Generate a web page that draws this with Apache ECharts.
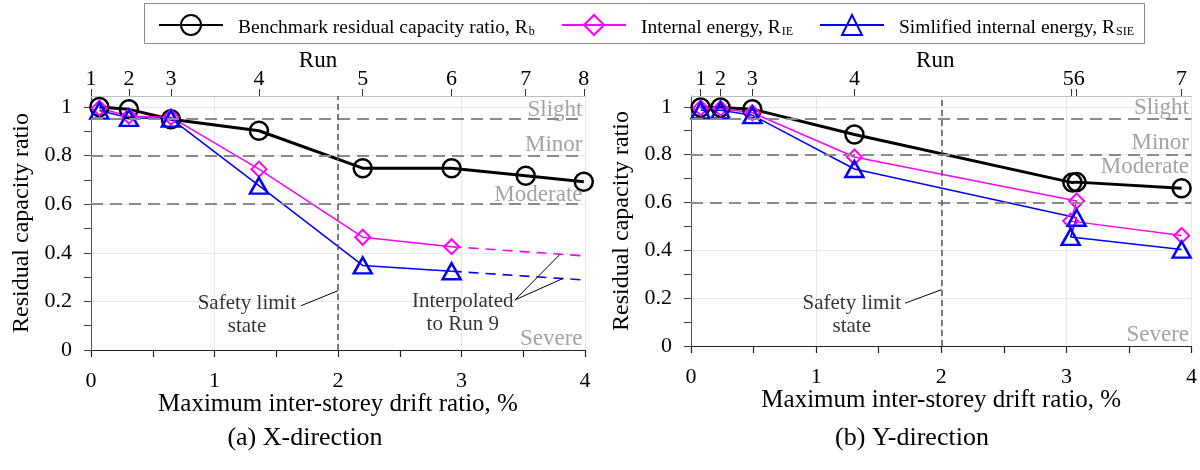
<!DOCTYPE html>
<html><head><meta charset="utf-8">
<script src="https://cdn.jsdelivr.net/npm/echarts@6/dist/echarts.min.js"></script>
<style>html,body{margin:0;padding:0;background:#fff}#c{width:1200px;height:470px}</style>
</head><body><div id="c"></div><script>
// ---------- DATA ----------
// (a) X-direction
const driftX   = [0.068, 0.307, 0.647, 1.36, 2.20, 2.92, 3.52, 3.99];
const rbX      = [1.0, 0.99, 0.949, 0.902, 0.748, 0.748, 0.717, 0.692];
const ieX      = [0.995, 0.962, 0.958, 0.744, 0.464, 0.425];
const sieX     = [0.985, 0.955, 0.952, 0.676, 0.348, 0.324];
const interpDriftX = [2.92, 4.0];
const ieInterpX    = [0.425, 0.387];
const sieInterpX   = [0.324, 0.288];
const runTicksX  = [0, 0.307, 0.647, 1.36, 2.20, 2.92, 3.52, 3.99];
const runLabelsX = ['1','2','3','4','5','6','7','8'];
// (b) Y-direction
const driftRbY = [0.077, 0.236, 0.49, 1.306, 3.048, 3.082, 3.921];
const rbY      = [0.997, 0.997, 0.99, 0.884, 0.683, 0.685, 0.659];
const driftEnY = [0.077, 0.236, 0.49, 1.306, 3.082, 3.034, 3.921];
const ieY      = [0.995, 0.993, 0.975, 0.79, 0.606, 0.522, 0.462];
const sieY     = [0.985, 0.985, 0.965, 0.74, 0.536, 0.456, 0.403];
const runTicksY  = [0.077, 0.236, 0.49, 1.306, 3.035, 3.075, 3.921];
const runLabelsY = ['1','2','3','4','5','6','7'];
// axes / references
const yLabelVals = [0, 0.2, 0.4, 0.6, 0.8, 1];
const yTickVals = [0, 0.1, 0.2, 0.3, 0.4, 0.5, 0.6, 0.7, 0.8, 0.9, 1];
const yGridVals = [0.2, 0.4, 0.6, 0.8, 1];
const damageThresholds = [0.95, 0.8, 0.6];
const safetyLimitDrift = 2;
const damageNames = ['Slight', 'Minor', 'Moderate', 'Severe'];
const damageLabelYX = [0.988, 0.844, 0.638, 0.044];
const damageLabelYY = [0.997, 0.848, 0.75, 0.046];
// annotations
const safetyTextX = [1.263, 0.146];
const safetyLeaderX = [[1.70, 0.182], [2.0, 0.244]];
const interpTextX = [3.01, 0.153];
const interpLeadersX = [[[3.433, 0.206], [3.80, 0.395]], [[3.433, 0.206], [3.825, 0.295]]];
const safetyTextY = [1.285, 0.130];
const safetyLeaderY = [[1.711, 0.179], [2.0, 0.235]];

// ---------- CHART ----------
const FONT = '"Liberation Serif","Times New Roman",serif';
const zip = (xs, ys) => xs.map((x, i) => [x, ys[i]]);
const chart = echarts.init(document.getElementById('c'), null, {renderer: 'canvas'});

const styles = {
  Rb:   {lineStyle: {color: '#000', width: 3}, symbol: 'circle', symbolSize: 18,
         itemStyle: {color: 'rgba(0,0,0,0)', borderColor: '#000', borderWidth: 2.5}},
  RIE:  {lineStyle: {color: '#ff00ff', width: 1.5}, symbol: 'diamond', symbolSize: 15,
         itemStyle: {color: 'rgba(0,0,0,0)', borderColor: '#ff00ff', borderWidth: 2}},
  RSIE: {lineStyle: {color: '#0000ff', width: 1.5}, symbol: 'triangle', symbolSize: [18, 16],
         itemStyle: {color: 'rgba(0,0,0,0)', borderColor: '#0000ff', borderWidth: 2.5}}
};
function lineSeries(name, g, data) {
  return Object.assign({type: 'line', name, xAxisIndex: g * 2, yAxisIndex: g * 2, data,
    clip: false, z: 3, emphasis: {disabled: true}, animation: false}, styles[name]);
}
function dashSeries(color, g, data) {
  return {type: 'line', xAxisIndex: g * 2, yAxisIndex: g * 2, data, symbol: 'none', z: 3,
    lineStyle: {color, width: 1.6, type: [10, 7]}, emphasis: {disabled: true}, animation: false, silent: true};
}
function leader(g, pts) {
  return {type: 'line', xAxisIndex: g * 2, yAxisIndex: g * 2, data: pts, symbol: 'none', z: 4,
    lineStyle: {color: '#000', width: 1}, emphasis: {disabled: true}, animation: false, silent: true};
}
function textSeries(g, pt, text) {
  return {type: 'scatter', xAxisIndex: g * 2, yAxisIndex: g * 2, data: [pt], symbolSize: 1, clip: false,
    itemStyle: {color: 'rgba(0,0,0,0)'}, silent: true, animation: false, z: 5,
    label: {show: true, position: 'inside', formatter: text, fontFamily: FONT, fontSize: 21,
      lineHeight: 23, color: '#000', align: 'center'}};
}
function damageSeries(g, ys) {
  return {type: 'scatter', xAxisIndex: g * 2, yAxisIndex: g * 2, clip: false, symbolSize: 1,
    data: ys.map((y, i) => ({value: [4, y], name: damageNames[i]})),
    itemStyle: {color: 'rgba(0,0,0,0)'}, silent: true, animation: false, z: 5,
    label: {show: true, position: 'left', distance: 2, formatter: '{b}', fontFamily: FONT,
      fontSize: 23, color: '#8c8c8c'}};
}
function refSeries(g) {
  return {type: 'line', xAxisIndex: g * 2, yAxisIndex: g * 2, data: [], z: 1, animation: false, silent: true,
    markLine: {silent: true, symbol: ['none', 'none'], label: {show: false}, animation: false,
      data: damageThresholds.map(v => ({yAxis: v, lineStyle: {color: '#8a8a8a', width: 2, type: [12, 7]}}))
        .concat([{xAxis: safetyLimitDrift, lineStyle: {color: '#555', width: 1.5, type: [6, 4]}}])}};
}

const grids = [{left: 91, top: 96, width: 494, height: 254}, {left: 691, top: 96, width: 504, height: 250}];
const xAxes = [], yAxes = [];
[[runTicksX, runLabelsX, 40], [runTicksY, runLabelsY, 12]].forEach(([ticks, labels, shift], g) => {
  xAxes.push({gridIndex: g, type: 'value', position: 'bottom', min: 0, max: 4, interval: 1,
    axisLine: {onZero: false, lineStyle: {color: '#222', width: 1.2}},
    axisTick: {show: true, length: 7, lineStyle: {color: '#222', width: 1.2}},
    minorTick: {show: true, splitNumber: 2, length: 7, lineStyle: {color: '#222', width: 1.2}},
    axisLabel: {fontFamily: FONT, fontSize: 22, color: '#000', margin: 20},
    splitLine: {show: true, lineStyle: {color: '#e8e8e8', width: 1}},
    name: 'Maximum inter-storey drift ratio, %', nameLocation: 'middle', nameGap: 42, nameMoveOverlap: false,
    nameTextStyle: {fontFamily: FONT, fontSize: 25, color: '#000'}});
  xAxes.push({gridIndex: g, type: 'value', position: 'top', min: 0, max: 4,
    axisLine: {onZero: false, lineStyle: {color: '#bdbdbd', width: 1}},
    axisTick: {show: true, customValues: ticks, length: 7, lineStyle: {color: '#333', width: 1}},
    axisLabel: {customValues: ticks, margin: 6, fontFamily: FONT, fontSize: 22, color: '#000',
      formatter: v => {
        const i = ticks.indexOf(v); const t = labels[i];
        if (g === 1 && t === '5') return '{a|5}';
        if (g === 1 && t === '6') return '{b|6}';
        return t;
      },
      rich: {a: {fontFamily: FONT, fontSize: 22, color: '#000', padding: [0, 5, 0, 0]},
             b: {fontFamily: FONT, fontSize: 22, color: '#000', padding: [0, 0, 0, 7]}}},
    splitLine: {show: false},
    name: 'Run', nameLocation: 'middle', nameGap: 24, nameMoveOverlap: false,
    nameTextStyle: {fontFamily: FONT, fontSize: 23, color: '#000', padding: [0, shift, 0, 0]}});
  yAxes.push({gridIndex: g, type: 'value', position: 'left', min: 0, max: 1.045,
    axisLine: {onZero: false, show: true, lineStyle: {color: '#555', width: 1}},
    axisTick: {show: true, customValues: yTickVals, length: 7, lineStyle: {color: '#444', width: 1}},
    axisLabel: {customValues: yLabelVals, fontFamily: FONT, fontSize: 22, color: '#000', margin: 19},
    splitLine: {show: false},
    name: 'Residual capacity ratio', nameLocation: 'middle', nameGap: 57, nameMoveOverlap: false,
    nameTextStyle: {fontFamily: FONT, fontSize: 24, color: '#000'}});
  yAxes.push({gridIndex: g, type: 'value', position: 'right', min: 0, max: 1.045, interval: 0.2,
    axisLine: {show: false, onZero: false}, axisTick: {show: false, customValues: yGridVals}, axisLabel: {show: false},
    splitLine: {show: true, lineStyle: {color: '#e8e8e8', width: 1}}});
});

const series = [
  refSeries(0), refSeries(1),
  lineSeries('Rb', 0, zip(driftX, rbX)),
  lineSeries('RIE', 0, zip(driftX.slice(0, ieX.length), ieX)),
  lineSeries('RSIE', 0, zip(driftX.slice(0, sieX.length), sieX)),
  dashSeries('#ff00ff', 0, zip(interpDriftX, ieInterpX)),
  dashSeries('#0000ff', 0, zip(interpDriftX, sieInterpX)),
  lineSeries('Rb', 1, zip(driftRbY, rbY)),
  lineSeries('RIE', 1, zip(driftEnY, ieY)),
  lineSeries('RSIE', 1, zip(driftEnY, sieY)),
  leader(0, safetyLeaderX),
  leader(0, interpLeadersX[0]), leader(0, interpLeadersX[1]),
  leader(1, safetyLeaderY),
  textSeries(0, safetyTextX, 'Safety limit\nstate'),
  textSeries(0, interpTextX, 'Interpolated\nto Run 9'),
  textSeries(1, safetyTextY, 'Safety limit\nstate'),
  damageSeries(0, damageLabelYX), damageSeries(1, damageLabelYY)
];

const legendText = {
  Rb: '{t|Benchmark residual capacity ratio, R}{s|b}',
  RIE: '{t|Internal energy, R}{s|IE}',
  RSIE: '{t|Simlified internal energy, R}{s|SIE}'
};
const legRich = {
  t: {fontFamily: FONT, fontSize: 19.5, color: '#000', lineHeight: 26, verticalAlign: 'bottom', padding: [0, 0, 0, 10]},
  s: {fontFamily: FONT, fontSize: 12, color: '#000', lineHeight: 14, verticalAlign: 'bottom', padding: [12, 0, 0, 1]}
};
const legends = [['Rb', 153], ['RIE', 556], ['RSIE', 814]].map(([n, l]) => ({
  left: l, top: 9, itemWidth: 64, itemHeight: 25, itemGap: 0, data: [n], selectedMode: false,
  formatter: name => legendText[name], textStyle: {rich: legRich}
}));

chart.setOption({
  animation: false,
  backgroundColor: '#fff',
  grid: grids,
  xAxis: xAxes,
  yAxis: yAxes,
  legend: legends,
  series,
  graphic: [
    {type: 'rect', silent: true, shape: {x: 144.5, y: 3.5, width: 1000, height: 40},
     style: {fill: 'none', stroke: '#8a8a8a', lineWidth: 1}},
    {type: 'text', silent: true, x: 305, y: 438,
     style: {text: '(a) X-direction', fontFamily: FONT, fontSize: 26, fill: '#000', align: 'center', verticalAlign: 'middle'}},
    {type: 'text', silent: true, x: 912, y: 438,
     style: {text: '(b) Y-direction', fontFamily: FONT, fontSize: 26, fill: '#000', align: 'center', verticalAlign: 'middle'}}
  ]
});
</script></body></html>
